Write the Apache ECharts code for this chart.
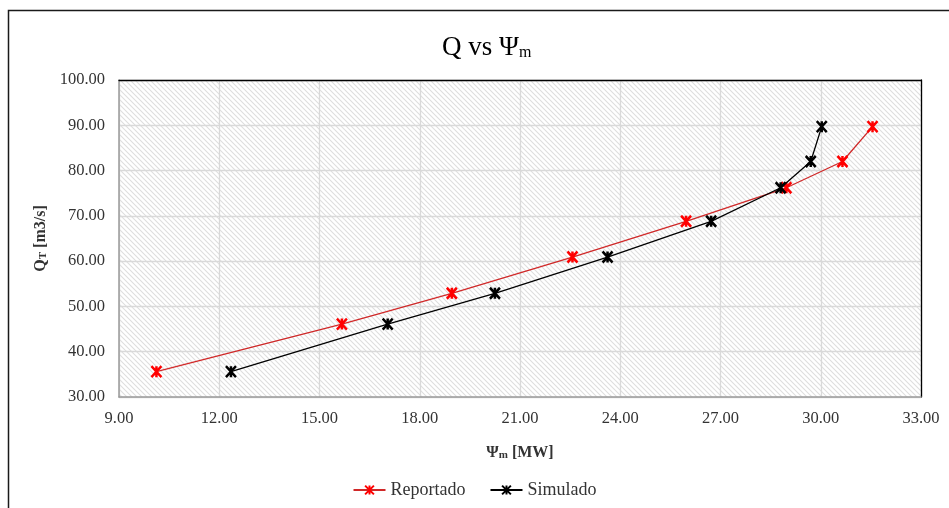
<!DOCTYPE html>
<html>
<head>
<meta charset="utf-8">
<script src="https://cdn.jsdelivr.net/npm/echarts@6/dist/echarts.min.js"></script>
<style>
  html, body { margin: 0; padding: 0; background: #fff; }
  #chart { width: 949px; height: 508px; }
</style>
</head>
<body>
<div id="chart"></div>
<script>
// Turbine flow vs mechanical power: reported and simulated operating points
const caudal = [35.6, 46.1, 52.9, 60.9, 68.8, 76.2, 82.0, 89.7];
const potenciaReportado = [10.12, 15.67, 18.96, 22.57, 25.97, 28.97, 30.65, 31.55];
const potenciaSimulado = [12.35, 17.04, 20.25, 23.62, 26.72, 28.80, 29.70, 30.03];
const xTicks = { min: 9, max: 33, step: 3 };
const yTicks = { min: 30, max: 100, step: 10 };

const serif = '"Liberation Serif", "Times New Roman", serif';

// Diagonal hatching for the plot background
function hatchTile() {
  const c = document.createElement('canvas');
  const s = 5;
  c.width = s; c.height = s;
  const g = c.getContext('2d');
  g.fillStyle = '#ffffff';
  g.fillRect(0, 0, s, s);
  g.strokeStyle = '#dedede';
  g.lineWidth = 1.1;
  g.beginPath();
  g.moveTo(-1, -1); g.lineTo(s + 1, s + 1);
  g.moveTo(-1, s - 1); g.lineTo(1, s + 1);
  g.moveTo(s - 1, -1); g.lineTo(s + 1, 1);
  g.stroke();
  return c;
}

const marker = 'path://M0,0 L10,10 M10,0 L0,10 M5,0 L5,10';

function pairs(xs, ys) { return xs.map((x, i) => [x, ys[i]]); }

const nameRich = {
  b: { fontFamily: serif, fontSize: 16, fontWeight: 'bold', color: '#333', lineHeight: 20, verticalAlign: 'bottom' },
  s: { fontFamily: serif, fontSize: 11, fontWeight: 'bold', color: '#333', lineHeight: 9, verticalAlign: 'bottom' }
};

const chart = echarts.init(document.getElementById('chart'), null, { renderer: 'canvas' });

chart.setOption({
  backgroundColor: '#ffffff',
  animation: false,
  title: {
    text: '{a|Q vs Ψ}{s|m}',
    left: 437,
    top: 26,
    textStyle: {
      rich: {
        a: { fontFamily: serif, fontSize: 27, fontWeight: 'normal', color: '#000', lineHeight: 30, verticalAlign: 'bottom' },
        s: { fontFamily: serif, fontSize: 16, fontWeight: 'normal', color: '#000', lineHeight: 10, verticalAlign: 'bottom' }
      }
    }
  },
  graphic: [{
    type: 'rect',
    shape: { x: 8.5, y: 10.5, width: 960, height: 520 },
    style: { fill: 'none', stroke: '#1a1a1a', lineWidth: 1.5 },
    silent: true,
    z: 100
  }],
  grid: {
    left: 119, right: 28, top: 80, bottom: 111,
    show: true,
    backgroundColor: { image: hatchTile(), repeat: 'repeat' },
    borderWidth: 0
  },
  legend: {
    bottom: 4,
    left: 'center',
    itemWidth: 32,
    itemHeight: 11,
    itemGap: 24,
    textStyle: { fontFamily: serif, fontSize: 18, color: '#333' },
    data: ['Reportado', 'Simulado']
  },
  xAxis: [{
    type: 'value',
    min: xTicks.min, max: xTicks.max, interval: xTicks.step,
    name: '{b|Ψ}{s|m}{b| [MW]}',
    nameLocation: 'middle',
    nameGap: 44,
    nameTextStyle: { rich: nameRich },
    axisLine: { show: true, lineStyle: { color: '#9a9a9a', width: 1.5 } },
    axisTick: { show: false },
    axisLabel: { fontFamily: serif, fontSize: 16.5, color: '#333', margin: 13, formatter: v => v.toFixed(2) },
    splitLine: { show: true, lineStyle: { color: '#d9d9d9', width: 1.3 } },
    z: 1
  }, {
    // plot frame, top edge
    type: 'value', position: 'top',
    min: xTicks.min, max: xTicks.max, interval: xTicks.step,
    axisLine: { show: true, onZero: false, lineStyle: { color: '#000', width: 1.3 } },
    axisTick: { show: false }, axisLabel: { show: false }, splitLine: { show: false },
    z: 1
  }],
  yAxis: [{
    type: 'value',
    min: yTicks.min, max: yTicks.max, interval: yTicks.step,
    name: '{b|Q}{s|T}{b| [m3/s]}',
    nameLocation: 'middle',
    nameRotate: 90,
    nameGap: 67,
    nameTextStyle: { rich: nameRich },
    axisLine: { show: true, lineStyle: { color: '#9a9a9a', width: 1.5 } },
    axisTick: { show: false },
    axisLabel: { fontFamily: serif, fontSize: 16.5, color: '#333', margin: 14, formatter: v => v.toFixed(2) },
    splitLine: { show: true, lineStyle: { color: '#d9d9d9', width: 1.3 } },
    z: 1
  }, {
    // plot frame, right edge
    type: 'value', position: 'right',
    min: yTicks.min, max: yTicks.max, interval: yTicks.step,
    axisLine: { show: true, onZero: false, lineStyle: { color: '#000', width: 1.3 } },
    axisTick: { show: false }, axisLabel: { show: false }, splitLine: { show: false },
    z: 1
  }],
  series: [
    {
      name: 'Reportado',
      type: 'line',
      data: pairs(potenciaReportado, caudal),
      symbol: marker,
      symbolSize: [10, 11],
      showAllSymbol: true,
      clip: false,
      lineStyle: { color: '#d02828', width: 1.3 },
      itemStyle: { color: '#ff0000', borderColor: '#ff0000', borderWidth: 2.6 },
      z: 3
    },
    {
      name: 'Simulado',
      type: 'line',
      data: pairs(potenciaSimulado, caudal),
      symbol: marker,
      symbolSize: [10, 11],
      showAllSymbol: true,
      clip: false,
      lineStyle: { color: '#000000', width: 1.3 },
      itemStyle: { color: '#000000', borderColor: '#000000', borderWidth: 2.6 },
      z: 4
    }
  ]
});
</script>
</body>
</html>
